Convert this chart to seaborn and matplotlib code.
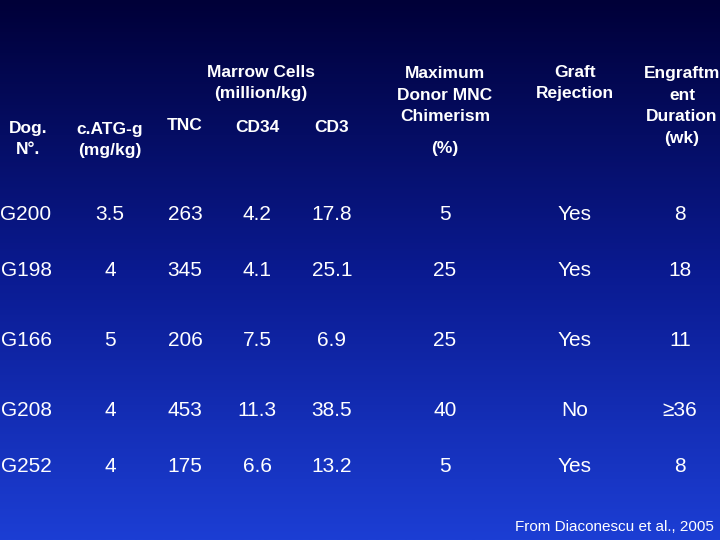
import numpy as np
import matplotlib
matplotlib.use("Agg")
import matplotlib.pyplot as plt
import seaborn as sns

sns.set_style("white")
plt.rcParams['font.family'] = ['Liberation Sans', 'DejaVu Sans']

# --- table data ---
dogs = ["G200", "G198", "G166", "G208", "G252"]
catg = ["3.5", "4", "5", "4", "4"]
tnc = ["263", "345", "206", "453", "175"]
cd34 = ["4.2", "4.1", "7.5", "11.3", "6.6"]
cd3 = ["17.8", "25.1", "6.9", "38.5", "13.2"]
chimerism = ["5", "25", "25", "40", "5"]
rejection = ["Yes", "Yes", "Yes", "No", "Yes"]
duration = ["8", "18", "11", "\u226536", "8"]

W, H = 720, 540
fig = plt.figure(figsize=(7.2, 5.4), dpi=100)
bg = fig.add_axes([0, 0, 1, 1])
grad = np.linspace(0, 1, 256)[:, None]
cmap = matplotlib.colors.LinearSegmentedColormap.from_list("bg", ["#000038", "#0a1a90", "#1c3ed4"])
bg.imshow(grad, aspect="auto", cmap=cmap, extent=[0, W, H, 0])
bg.set_xlim(0, W)
bg.set_ylim(H, 0)
bg.axis("off")

def t(x, y, s, size=12.5, ha="center", va="center", weight="bold"):
    bg.text(x, y, s, color="white", fontsize=size, ha=ha, va=va,
            linespacing=1.55, fontweight=weight)

# headers
t(261, 83, "Marrow Cells\n(million/kg)")
t(185, 126, "TNC")
t(257, 127, "CD34")
t(332, 127, "CD3")
t(28, 139, "Dog.\nN°.")
t(110, 140, "c.ATG-g\n(mg/kg)")
t(445, 95, "Maximum\nDonor MNC\nChimerism")
t(445, 148, "(%)")
t(575, 83, "Graft\nRejection")
t(682, 106, "Engraftm\nent\nDuration\n(wk)")

cols = [(26, dogs), (110, catg), (185, tnc), (257, cd34), (332, cd3),
        (445, chimerism), (575, rejection), (680, duration)]
rows_y = [214, 270, 340, 411, 466]
for x, vals in cols:
    for y, v in zip(rows_y, vals):
        t(x, y, v, size=15, weight="normal")

t(714, 527, "From Diaconescu et al., 2005", size=11, ha="right", weight="normal")

fig.savefig("out.png", dpi=100)
